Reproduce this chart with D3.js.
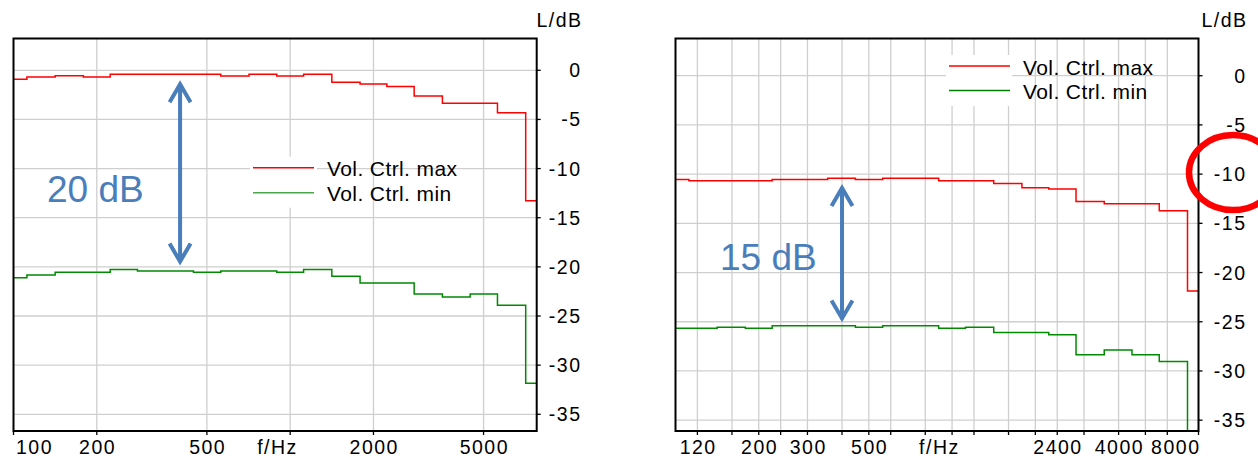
<!DOCTYPE html>
<html>
<head>
<meta charset="utf-8">
<script src="https://cdn.jsdelivr.net/npm/d3@7"></script>
<style>
  html, body { margin: 0; padding: 0; background: #fff; }
  svg { display: block; }
  .tick-label { font-family: "Liberation Sans", Arial, sans-serif; font-size: 19.5px; letter-spacing: 1.5px; fill: #000; }
  .legend-label { font-family: "Liberation Sans", Arial, sans-serif; font-size: 21px; letter-spacing: 0.4px; fill: #000; }
  .gap-label { font-family: "Liberation Sans", Arial, sans-serif; font-size: 37px; fill: #4a7ebb; }
</style>
</head>
<body>
<svg id="chart" width="1258" height="457"></svg>
<script>
// Third-octave band centre frequencies (Hz)
const bands = [100, 125, 160, 200, 250, 315, 400, 500, 630, 800, 1000, 1250, 1600, 2000, 2500, 3150, 4000, 5000, 6300, 8000];

// Level per band (dB), volume control at max / min — first measurement
const leftMax = [-0.92, -0.68, -0.55, -0.68, -0.40, -0.40, -0.40, -0.40, -0.58, -0.40, -0.58, -0.40, -1.22, -1.39, -1.66, -2.61, -3.36, -3.36, -4.31, -13.27];
const leftMin = [-21.12, -20.82, -20.54, -20.54, -20.27, -20.41, -20.41, -20.54, -20.41, -20.41, -20.54, -20.27, -20.95, -21.63, -21.63, -22.76, -23.06, -22.76, -23.91, -31.84];

// Level per band (dB), volume control at max / min — second measurement
const rightMax = [-10.54, -10.68, -10.68, -10.68, -10.54, -10.54, -10.41, -10.54, -10.41, -10.41, -10.68, -10.68, -10.95, -11.39, -11.52, -12.77, -13.01, -13.01, -13.72, -21.87];
const rightMin = [-25.65, -25.65, -25.55, -25.65, -25.41, -25.41, -25.41, -25.55, -25.41, -25.41, -25.65, -25.55, -26.09, -26.09, -26.33, -28.34, -27.87, -28.34, -29.03, -38.0];

const seriesNames = ["Vol. Ctrl. max", "Vol. Ctrl. min"];

// Axis ticks
const yTicks = [0, -5, -10, -15, -20, -25, -30, -35];
const leftGridF = [200, 500, 1000, 2000, 5000];
const leftTickF = [100, 200, 500, 1000, 2000, 5000];
const leftLabelF = [100, 200, 500, 2000, 5000];
const rightGridF = [120, 160, 200, 240, 300, 400, 500, 600, 800, 1000, 1200, 1600, 2000, 2400, 3000, 4000, 5000, 6000];
const rightTickF = [120, 160, 200, 240, 300, 400, 500, 600, 800, 1000, 1200, 1600, 2000, 2400, 3000, 4000, 5000, 6000, 8000];
const rightLabelF = [120, 200, 300, 500, 2400, 4000, 8000];
const freqAxisTitle = "f/Hz";
const levelAxisTitle = "L/dB";
const arrowFreq = 400;

const svg = d3.select("#chart");

// band edges: geometric means between neighbouring centres
const edges = [bands[0] / Math.sqrt(bands[1] / bands[0])];
for (let i = 0; i < bands.length - 1; i++) edges.push(Math.sqrt(bands[i] * bands[i + 1]));
edges.push(bands[bands.length - 1] * Math.sqrt(bands[bands.length - 1] / bands[bands.length - 2]));

function stepPoints(values) {
  const pts = [];
  values.forEach((v, i) => { pts.push([edges[i], v]); pts.push([edges[i + 1], v]); });
  return pts;
}

function drawPanel(cfg) {
  const x = d3.scaleLog().domain(cfg.xDomain).range(cfg.xRange);
  const y = d3.scaleLinear().domain(cfg.yDomain).range([431, 38.5]);
  const [x0, x1] = cfg.xRange;
  const yTop = 38.5, yBot = 431;
  const g = svg.append("g");

  // grid
  g.append("g").selectAll("line").data(cfg.gridF).join("line")
    .attr("x1", d => x(d)).attr("x2", d => x(d))
    .attr("y1", yTop).attr("y2", yBot)
    .attr("stroke", "#cfcfcf").attr("stroke-width", 1.3);
  g.append("g").selectAll("line").data(yTicks).join("line")
    .attr("x1", x0).attr("x2", x1)
    .attr("y1", d => y(d)).attr("y2", d => y(d))
    .attr("stroke", "#cfcfcf").attr("stroke-width", 1.3);

  // legend
  const lg = cfg.legend;
  g.append("rect").attr("x", lg.boxX).attr("y", lg.y - 11).attr("width", lg.boxW).attr("height", 51).attr("fill", "#fff");
  seriesNames.forEach((name, i) => {
    const ly = lg.y + i * lg.dy;
    g.append("line").attr("x1", lg.x).attr("x2", lg.x + 61).attr("y1", ly).attr("y2", ly)
      .attr("stroke", lg.colors[i]).attr("stroke-width", 1.6);
    g.append("text").attr("class", "legend-label").attr("x", lg.x + 74).attr("y", ly + 8.5).text(name);
  });

  // data
  const clipId = "clip" + cfg.id;
  svg.append("clipPath").attr("id", clipId).append("rect")
    .attr("x", x0).attr("y", yTop).attr("width", x1 - x0).attr("height", yBot - yTop);
  const line = d3.line().x(d => x(d[0])).y(d => y(d[1]));
  g.append("path").attr("d", line(stepPoints(cfg.min))).attr("clip-path", `url(#${clipId})`)
    .attr("fill", "none").attr("stroke", "#008a00").attr("stroke-width", 1.5);
  g.append("path").attr("d", line(stepPoints(cfg.max))).attr("clip-path", `url(#${clipId})`)
    .attr("fill", "none").attr("stroke", "#ff0000").attr("stroke-width", 1.5);

  // frame
  g.append("rect").attr("x", x0).attr("y", yTop).attr("width", x1 - x0).attr("height", yBot - yTop)
    .attr("fill", "none").attr("stroke", "#000").attr("stroke-width", 2);

  // right-hand level axis
  g.append("g").selectAll("line").data(yTicks).join("line")
    .attr("x1", x1).attr("x2", x1 + 4).attr("y1", d => y(d)).attr("y2", d => y(d))
    .attr("stroke", "#000").attr("stroke-width", 1.3);
  g.append("g").selectAll("text").data(yTicks).join("text")
    .attr("class", "tick-label").attr("text-anchor", "end")
    .attr("x", cfg.yLabelX).attr("y", d => y(d)).attr("dy", "0.36em")
    .text(d => d === 0 ? "0" : String(d));
  g.append("text").attr("class", "tick-label").attr("text-anchor", "end")
    .attr("x", cfg.yLabelX + 1).attr("y", 26.5).text(levelAxisTitle);

  // frequency axis
  g.append("g").selectAll("line").data(cfg.tickF).join("line")
    .attr("x1", d => Math.min(x(d), x1)).attr("x2", d => Math.min(x(d), x1))
    .attr("y1", yBot).attr("y2", yBot + 4)
    .attr("stroke", "#000").attr("stroke-width", 1.3);
  g.append("g").selectAll("text").data(cfg.labelF).join("text")
    .attr("class", "tick-label")
    .attr("text-anchor", d => x(d) - 18 < x0 ? "start" : (x(d) + 18 > x1 ? "end" : "middle"))
    .attr("x", d => x(d) - 18 < x0 ? x0 + 2.5 : (x(d) + 18 > x1 ? x1 + 2 : x(d) + 0.8))
    .attr("y", 454).text(d => d);
  g.append("text").attr("class", "tick-label").attr("text-anchor", "middle")
    .attr("x", x(900)).attr("y", 454).text(freqAxisTitle);

  // level-difference annotation at 400 Hz
  const bi = bands.indexOf(arrowFreq);
  const top = cfg.max[bi], bot = cfg.min[bi];
  const ax = x(arrowFreq);
  const yA = y(top - cfg.inset[0]), yB = y(bot + cfg.inset[1]);
  const blue = "#4a7ebb";
  const arrow = d3.path();
  arrow.moveTo(ax, yA); arrow.lineTo(ax, yB);
  arrow.moveTo(ax - 10.5, yA + 19); arrow.lineTo(ax, yA + 1); arrow.lineTo(ax + 10.5, yA + 19);
  arrow.moveTo(ax - 10.5, yB - 19); arrow.lineTo(ax, yB - 1); arrow.lineTo(ax + 10.5, yB - 19);
  g.append("path").attr("d", arrow.toString()).attr("fill", "none")
    .attr("stroke", blue).attr("stroke-width", 4).attr("stroke-linejoin", "miter").attr("stroke-linecap", "butt");
  g.append("text").attr("class", "gap-label").attr("x", cfg.gapLabel[0]).attr("y", cfg.gapLabel[1])
    .text(Math.round(top - bot) + " dB");

  return { x, y };
}

drawPanel({
  id: "L", xDomain: [100, 7780], xRange: [13.5, 536.7], yDomain: [-36.70, 3.235],
  gridF: leftGridF, tickF: leftTickF, labelF: leftLabelF,
  max: leftMax, min: leftMin, yLabelX: 581.5,
  legend: { x: 253, y: 167.7, dy: 25, boxX: 250, boxW: 67, colors: ["#ff0000", "#4ca64c"] },
  inset: [0.92, 0.85], gapLabel: [47, 201.5]
});

const right = drawPanel({
  id: "R", xDomain: [100, 7780], xRange: [675.5, 1198.5], yDomain: [-36.10, 3.78],
  gridF: rightGridF, tickF: rightTickF, labelF: rightLabelF,
  max: rightMax, min: rightMin, yLabelX: 1246.5,
  legend: { x: 949, y: 66, dy: 24.5, boxX: 946, boxW: 66, colors: ["#ff0000", "#008000"] },
  inset: [0.9, 0.65], gapLabel: [720, 269.5]
});

// highlight ring around the -10 dB label
svg.append("ellipse").attr("cx", 1233).attr("cy", right.y(-10) - 1.5).attr("rx", 44).attr("ry", 37.5)
  .attr("fill", "none").attr("stroke", "#ff0000").attr("stroke-width", 6.5);
</script>
</body>
</html>
